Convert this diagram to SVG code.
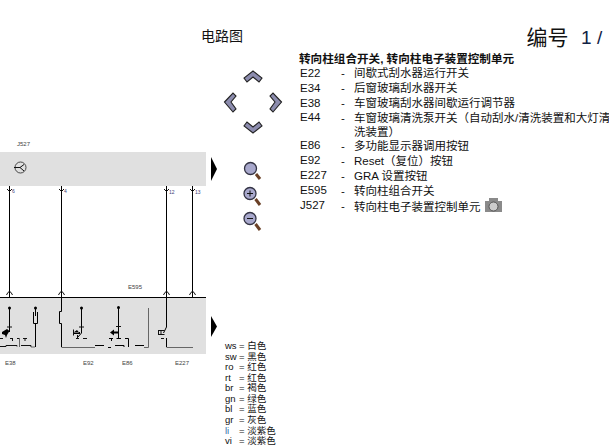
<svg xmlns="http://www.w3.org/2000/svg" width="609" height="448" viewBox="0 0 609 448">
<style>
text{font-family:"Liberation Sans","Noto Sans CJK SC",sans-serif;fill:#111}
.t{font-size:11.500px}
.l{font-size:9.500px}
.s{font-size:6px;fill:#444}
.n{font-size:5px;fill:#447}
.w{fill:none;stroke:#000;stroke-width:1}
.g{fill:none;stroke:#666;stroke-width:1}
.k{fill:none;stroke:#111;stroke-width:1}
.a{fill:#8c8cae;stroke:#222;stroke-width:1.100}
.m{fill:#a8a8cc;stroke:#334;stroke-width:1.300}
.h{stroke:#6a4026;stroke-width:3;fill:none}
</style>
<rect width="609" height="448" fill="#fff"/>
<g id="panels">
<rect x="0" y="152" width="206" height="34" fill="#e0e0e0"/>
<rect x="0" y="297" width="206" height="57" fill="#e0e0e0"/>
<path d="M211 157L217 169L211 181Z" fill="#000"/>
<path d="M211 316L217 326.500L211 337Z" fill="#000"/>
</g>
<g id="connectors">
<path class="w" d="M9.500 186V297M61.500 186V297M166.500 186V297M192.500 186V297M0 297.500H206"/>
<path class="k" d="M7 189L9.500 191.500L12 189M59 189L61.500 191.500L64 189M164 189L166.500 191.500L169 189M190 189L192.500 191.500L195 189"/>
<path class="k" d="M6.500 295Q9.500 288 12.500 295M58.500 295Q61.500 288 64.500 295M163.500 295Q166.500 288 169.500 295M189.500 295Q192.500 288 195.500 295"/>
</g>
<g id="J527">
<text class="s" x="17" y="146">J527</text>
<circle cx="20.500" cy="167.500" r="5.500" fill="none" stroke="#222" stroke-width=".8"/>
<path class="k" d="M14 167.500H20L24 164.500M20 167.500L24 171"/>
<text class="n" x="12" y="193">6</text>
<text class="n" x="64" y="193">4</text>
<text class="n" x="169" y="194">12</text>
<text class="n" x="195" y="194">13</text>
</g>
<g id="E595"><text class="s" x="128" y="289">E595</text></g>
<g id="E38">
<circle cx="9.500" cy="308" r="1.500" fill="#000"/>
<path class="w" d="M9.500 308V332"/>
<path class="k" d="M7 327H12M0 338.500H3M10 338.500H13M17 338.500H20M23 338.500H27M12.500 338.500V341M25 338.500V341"/>
<path fill="#000" d="M2 332L7 329L9.500 331L7 335L6 338L5 335L2 334Z"/>
<path class="k" d="M0 346.500H6V345.500H17V346.500M21 345.500H31V347"/>
<path class="g" d="M19.500 338V347M31 347H35"/>
<circle cx="35.500" cy="308" r="1.500" fill="#000"/>
<path class="w" d="M35.500 308V316M33.500 312V323.500H37.500V312M35.500 323.500V347"/>
<text class="s" x="5" y="365">E38</text>
</g>
<g id="E92">
<path class="w" d="M61.500 297V311.500H59.500V323.500H61.500V347"/>
<path class="g" d="M61.500 347.500H95"/>
<path class="w" d="M95 345.500H104"/>
<circle cx="81.500" cy="308" r="1.500" fill="#000"/>
<path class="w" d="M81.500 308V333L78 337"/>
<path class="k" d="M79 327H84M73.500 329.500V335.500M76 338.500H79M83 338.500H87M77.500 335V338"/>
<path d="M73.500 332.500H79L77 330ZM74 332H80V334H74Z" fill="#000"/>
<text class="s" x="83" y="365">E92</text>
</g>
<g id="E86">
<circle cx="118.500" cy="307.500" r="1.500" fill="#000"/>
<path class="w" d="M118.500 307.500V338"/>
<path class="k" d="M116 326.500H121"/>
<path d="M110 332.500L114 329.500V331.500H118V333.500H114V335.500Z" fill="#000"/>
<path class="w" d="M109 338.500H113M116.500 338.500H121M125 338.500H128.500V347M111.500 338.500V341M100 345.500H104M108 347.500H111M115 345.500H124V347M135 345.500H144"/>
<path class="g" d="M148.500 308V347.500H144"/>
<text class="s" x="122" y="365">E86</text>
</g>
<g id="E227">
<path class="w" d="M166.500 297V327L163.500 333"/>
<path class="k" d="M158.500 330.500H164.500M158.500 330V335M161 330V334M158.500 334.500H164.500M161 338.500H164"/>
<path class="w" d="M166.500 338V347"/>
<path class="g" d="M166.500 347.500H193"/>
<text class="s" x="175" y="365">E227</text>
</g>
<g id="nav">
<path class="a" d="M253 71L262 78L259 82L253 77L247 82L244 78Z"/>
<path class="a" d="M224.500 102L233 93L236 96L231 102L236 109L233 112Z"/>
<path class="a" d="M281.500 102L273 93L270 96L275 102L270 109L273 112Z"/>
<path class="a" d="M253 133L262 126L259 122L253 127L247 122L244 126Z"/>
</g>
<g id="zoom">
<circle cx="250.500" cy="168.500" r="6" class="m"/><path class="h" d="M256 174L260 179"/>
<circle cx="250" cy="193.500" r="6" class="m"/><path class="k" d="M247 193.500H253M250 190.500V196.500"/><path class="h" d="M255.500 199L260 205"/>
<circle cx="250" cy="218.500" r="6" class="m"/><path class="k" d="M247 218.500H253"/><path class="h" d="M255.500 224L260 230"/>
</g>
<g id="legend">
<text class="l" x="225" y="349">ws</text><text class="l" x="239" y="349">= 白色</text>
<text class="l" x="225" y="360">sw</text><text class="l" x="239" y="360">= 黑色</text>
<text class="l" x="225" y="370">ro</text><text class="l" x="239" y="370">= 红色</text>
<text class="l" x="225" y="381">rt</text><text class="l" x="239" y="381">= 红色</text>
<text class="l" x="225" y="391">br</text><text class="l" x="239" y="391">= 褐色</text>
<text class="l" x="225" y="402">gn</text><text class="l" x="239" y="402">= 绿色</text>
<text class="l" x="225" y="412">bl</text><text class="l" x="239" y="412">= 蓝色</text>
<text class="l" x="225" y="423">gr</text><text class="l" x="239" y="423">= 灰色</text>
<text class="l" x="225" y="434" style="fill:#36a">li</text><text class="l" x="239" y="434">= 淡紫色</text>
<text class="l" x="225" y="444">vi</text><text class="l" x="239" y="444">= 淡紫色</text>
</g>
<g id="titles">
<text x="201" y="41" style="font-size:14px">电路图</text>
<text x="526.500" y="45" style="font-size:21px">编号</text>
<text x="581" y="44" style="font-size:19px;fill:#124">1</text>
<text x="597" y="44" style="font-size:19px;fill:#124">/</text>
</g>
<g id="parts" class="t">
<text class="t" x="299" y="63" style="font-weight:bold;font-size:11.600px">转向柱组合开关, 转向柱电子装置控制单元</text>
<text class="t" x="300" y="76.500">E22</text><text class="t" x="341" y="76.500">-</text><text class="t" x="354" y="77">间歇式刮水器运行开关</text>
<text class="t" x="300" y="91.500">E34</text><text class="t" x="341" y="91.500">-</text><text class="t" x="354" y="92">后窗玻璃刮水器开关</text>
<text class="t" x="300" y="106.500">E38</text><text class="t" x="341" y="106.500">-</text><text class="t" x="354" y="107">车窗玻璃刮水器间歇运行调节器</text>
<text class="t" x="300" y="121">E44</text><text class="t" x="341" y="121.500">-</text><text class="t" x="354" y="122">车窗玻璃清洗泵开关（自动刮水/清洗装置和大灯清</text>
<text class="t" x="354" y="136">洗装置）</text>
<text class="t" x="300" y="149">E86</text><text class="t" x="341" y="150">-</text><text class="t" x="354" y="150">多功能显示器调用按钮</text>
<text class="t" x="300" y="164">E92</text><text class="t" x="341" y="165">-</text><text class="t" x="354" y="165">Reset（复位）按钮</text>
<text class="t" x="300" y="179">E227</text><text class="t" x="341" y="180">-</text><text class="t" x="354" y="180">GRA 设置按钮</text>
<text class="t" x="300" y="194">E595</text><text class="t" x="341" y="195">-</text><text class="t" x="354" y="195">转向柱组合开关</text>
<text class="t" x="300" y="209">J527</text><text class="t" x="341" y="210">-</text><text class="t" x="354" y="211">转向柱电子装置控制单元</text>
</g>
<g id="camera">
<rect x="485" y="201" width="17" height="11" fill="#8a8a8a"/>
<rect x="489" y="198" width="9" height="3" fill="#8a8a8a"/>
<circle cx="493.500" cy="206.500" r="4.500" fill="#ccc" stroke="#555"/>
</g>
</svg>
